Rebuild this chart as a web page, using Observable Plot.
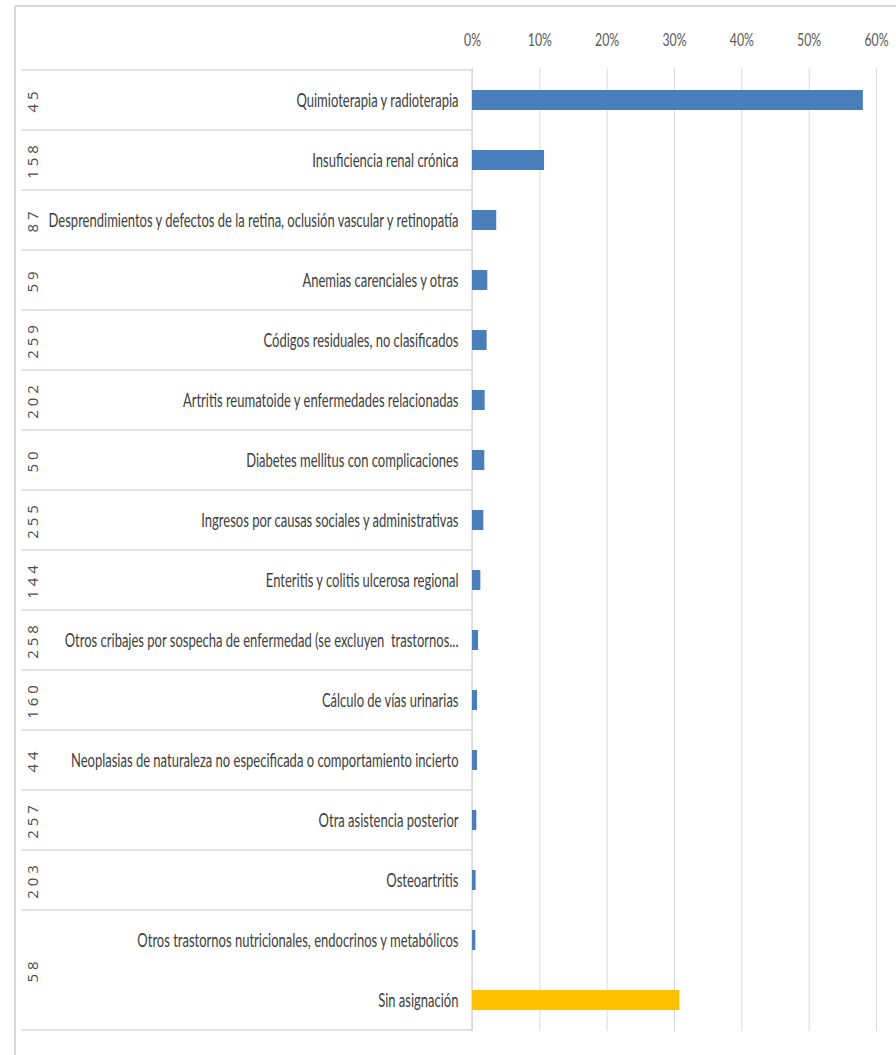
<!DOCTYPE html>
<html>
<head>
<meta charset="utf-8">
<script src="https://cdn.jsdelivr.net/npm/d3@7"></script>
<script src="https://cdn.jsdelivr.net/npm/@observablehq/plot@0.6"></script>
<style>
  html, body { margin: 0; padding: 0; background: #fff; }
  #chart svg { display: block; }
</style>
</head>
<body>
<div id="chart"></div>
<script>
// ---- data ----
const labels = [
  "Quimioterapia y radioterapia",
  "Insuficiencia renal crónica",
  "Desprendimientos y defectos de la retina, oclusión vascular y retinopatía",
  "Anemias carenciales y otras",
  "Códigos residuales, no clasificados",
  "Artritis reumatoide y enfermedades relacionadas",
  "Diabetes mellitus con complicaciones",
  "Ingresos por causas sociales y administrativas",
  "Enteritis y colitis ulcerosa regional",
  "Otros cribajes por sospecha de enfermedad (se excluyen  trastornos...",
  "Cálculo de vías urinarias",
  "Neoplasias de naturaleza no especificada o comportamiento incierto",
  "Otra asistencia posterior",
  "Osteoartritis",
  "Otros trastornos nutricionales, endocrinos y metabólicos",
  "Sin asignación"
];
const shares = [0.5805, 0.107, 0.036, 0.0227, 0.0217, 0.0188, 0.0183, 0.0168,
  0.0124, 0.009, 0.0074, 0.0074, 0.0064, 0.0054, 0.005, 0.308];
const codes = ["45", "158", "87", "59", "259", "202", "50", "255", "144", "258",
  "160", "44", "257", "203", "58", "58"];
const kinds = labels.map(l => l === "Sin asignación" ? "sin" : "asignado");
const xTicks = [0, 0.1, 0.2, 0.3, 0.4, 0.5, 0.6];

const rows = labels.map((label, i) => ({label, share: shares[i], code: codes[i], kind: kinds[i]}));

const W = 896, H = 1055;
const labelFont = "Lato, 'Liberation Sans', sans-serif";
const squeeze = 0.685; // horizontal compression of the label glyphs, as in the reference

const plot = Plot.plot({
  width: W,
  height: H,
  marginTop: 68,
  marginBottom: 24,
  marginLeft: 472,
  marginRight: 20,
  style: {fontFamily: labelFont, fontSize: "19px", color: "#404040", background: "#fff"},
  x: {domain: [0, 0.6], axis: null},
  y: {domain: labels, paddingInner: 0.67, paddingOuter: 0.335, align: 0.5, axis: null},
  color: {domain: ["asignado", "sin"], range: ["#4a7ebb", "#ffc000"]},
  marks: [
    Plot.gridX(xTicks, {stroke: "#d9d9d9", strokeOpacity: 1, strokeWidth: 1}),
    Plot.barX(rows, {x: "share", y: "label", fill: "kind"}),
    Plot.axisX(xTicks, {anchor: "top", tickSize: 0, tickPadding: 23, tickFormat: d3.format(".0%"),
      fill: "#595959", fontSize: 18, label: null, className: "sq"}),
    Plot.axisY({anchor: "left", tickSize: 0, tickPadding: 14, fill: "#404040", fontSize: 19,
      label: null, className: "sq"})
  ]
});

document.getElementById("chart").appendChild(plot);

const svg = d3.select(plot);

// squeeze label glyphs horizontally around their anchor point
svg.selectAll(".sq text").each(function() {
  const el = d3.select(this);
  const t = el.attr("transform") || "";
  const x = parseFloat(el.attr("x"));
  const ax = isFinite(x) ? x : 0;
  el.attr("transform", `${t} translate(${ax},0) scale(${squeeze},1) translate(${-ax},0)`);
});

// ---- decorations drawn with Plot's own y scale ----
const y = plot.scale("y");
const gap = (y.step - y.bandwidth) / 2;
const x0 = 472;
const deco = svg.insert("g", ":first-child");

// chart border
deco.append("line").attr("x1", 15).attr("x2", W).attr("y1", 6).attr("y2", 6)
  .attr("stroke", "#d9d9d9").attr("stroke-width", 2);
deco.append("line").attr("x1", 15).attr("x2", 15).attr("y1", 6).attr("y2", H)
  .attr("stroke", "#d9d9d9").attr("stroke-width", 2);

// group code boxes
const groups = d3.groups(rows, d => d.code);
const top0 = y.apply(labels[0]) - gap;
const bottom = y.apply(labels[labels.length - 1]) + y.bandwidth + gap;
deco.append("line").attr("x1", x0).attr("x2", x0).attr("y1", top0).attr("y2", bottom)
  .attr("stroke", "#d9d9d9").attr("stroke-width", 1.5);
const bounds = [top0];
for (const [code, members] of groups) {
  const last = members[members.length - 1].label;
  bounds.push(y.apply(last) + y.bandwidth + gap);
}
for (const b of bounds) {
  deco.append("line").attr("x1", 21).attr("x2", x0).attr("y1", b).attr("y2", b)
    .attr("stroke", "#d9d9d9").attr("stroke-width", 1.5);
}
for (const [code, members] of groups) {
  const cs = members.map(m => y.apply(m.label) + y.bandwidth / 2);
  const yc = d3.mean(cs);
  svg.append("text")
    .attr("transform", `translate(32,${yc}) rotate(-90)`)
    .attr("text-anchor", "middle")
    .attr("dominant-baseline", "central")
    .attr("fill", "#4d4d4d")
    .attr("font-family", "'Open Sans', 'Noto Sans', sans-serif")
    .attr("font-size", 15)
    .attr("letter-spacing", 4)
    .text(code);
}
</script>
</body>
</html>
